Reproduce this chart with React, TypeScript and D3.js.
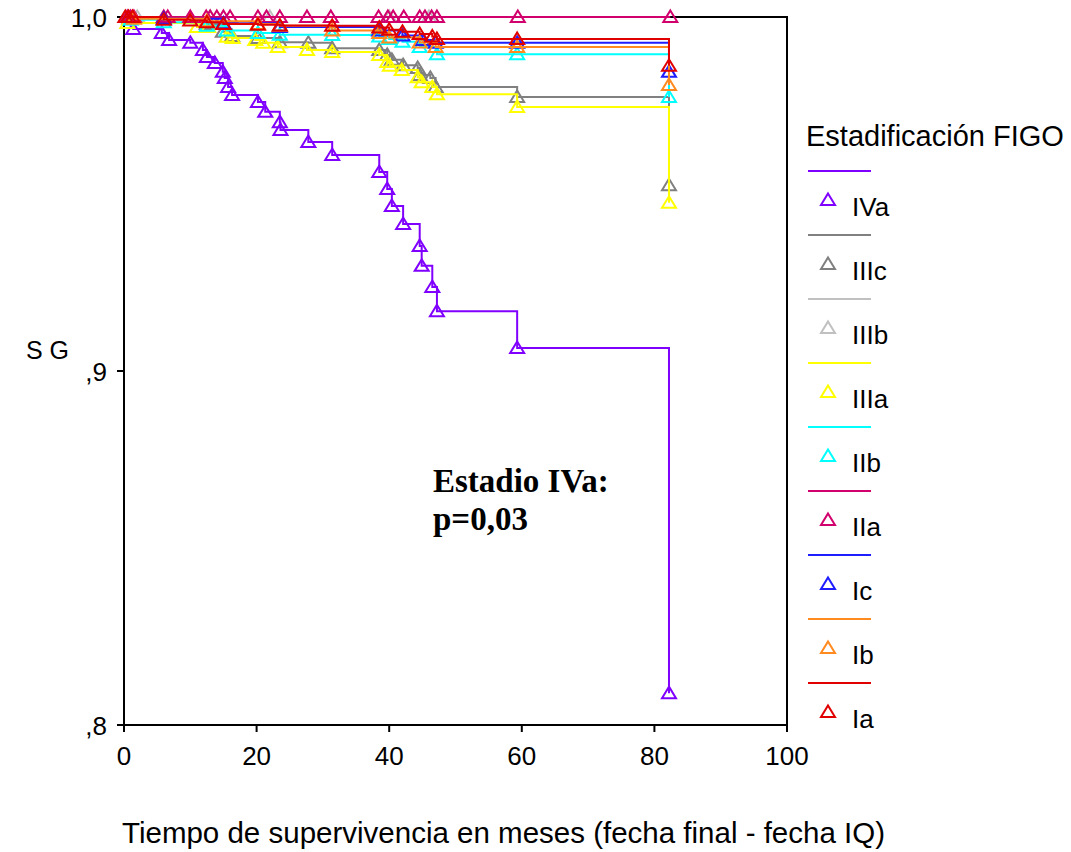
import React from 'react';
import * as d3 from 'd3';

// Kaplan-Meier curves, one per FIGO stage: [meses, supervivencia] at each step
const stages = ['IVa', 'IIIc', 'IIIb', 'IIIa', 'IIb', 'IIa', 'Ic', 'Ib', 'Ia'];
const stageColors = ['#8000ff', '#808080', '#c0c0c0', '#ffff00', '#00ffff', '#d1006c', '#1e1eff', '#ff8a1f', '#e00000'];

const stepsIVa: [number, number][] = [
  [1.4, 0.9966], [5.7, 0.9955], [6.8, 0.9935], [10.0, 0.9927], [11.9, 0.9907], [12.5, 0.9887],
  [13.7, 0.987], [14.9, 0.9845], [15.2, 0.9828], [15.7, 0.9802], [16.3, 0.978], [20.2, 0.976],
  [21.3, 0.9732], [23.5, 0.9703], [23.6, 0.9681], [27.8, 0.9647], [31.4, 0.961], [38.5, 0.9562],
  [39.7, 0.9514], [40.4, 0.9466], [42.1, 0.9415], [44.6, 0.9353], [44.9, 0.9297], [46.5, 0.9237],
  [47.2, 0.9169], [59.3, 0.9065], [82.2, 0.809],
];
const stepsIIIc: [number, number][] = [
  [0.8, 0.9995], [12.5, 0.998], [14.9, 0.9958], [16.3, 0.9946], [20.2, 0.9941], [23.5, 0.9929],
  [27.8, 0.9927], [31.4, 0.9912], [38.5, 0.9907], [39.7, 0.9893], [40.4, 0.9879], [42.1, 0.9864],
  [44.3, 0.9856], [44.6, 0.9836], [46.2, 0.9828], [47.0, 0.9802], [59.3, 0.9774], [82.2, 0.9525],
];
const stepsIIIb: [number, number][] = [
  [2.0, 1], [13.0, 1], [22.0, 1], [40.0, 1], [46.0, 1],
];
const stepsIIIa: [number, number][] = [
  [0.5, 0.9983], [11.0, 0.9972], [12.7, 0.9972], [15.5, 0.9944], [16.4, 0.9941], [19.8, 0.9935],
  [21.0, 0.9927], [23.2, 0.9915], [27.6, 0.9907], [31.4, 0.9901], [38.5, 0.9893], [39.7, 0.9873],
  [40.1, 0.9862], [41.9, 0.985], [44.3, 0.983], [44.9, 0.9816], [46.5, 0.9802], [47.2, 0.9782],
  [59.3, 0.9746], [82.2, 0.9475],
];
const stepsIIb: [number, number][] = [
  [1.0, 0.9992], [6.0, 0.9985], [12.5, 0.9975], [15.5, 0.9962], [20.2, 0.9955], [23.5, 0.995],
  [31.4, 0.9949], [38.5, 0.9945], [40.0, 0.9938], [42.0, 0.993], [44.6, 0.9915], [47.2, 0.9895],
  [59.3, 0.9895], [82.2, 0.9774],
];
const stepsIIa: [number, number][] = [
  [0.5, 1], [1.0, 1], [1.5, 1], [6.0, 1], [6.6, 1], [10.0, 1], [12.4, 1], [13.0, 1], [14.0, 1],
  [15.0, 1], [16.0, 1], [20.2, 1], [21.5, 1], [23.5, 1], [27.6, 1], [31.2, 1], [38.4, 1], [39.8, 1],
  [40.6, 1], [42.2, 1], [44.6, 1], [45.4, 1], [46.4, 1], [47.2, 1], [59.4, 1], [82.4, 1],
];
const stepsIc: [number, number][] = [
  [6.0, 0.9995], [15.0, 0.9982], [23.5, 0.9972], [38.5, 0.9962], [42.0, 0.9948], [45.0, 0.9935],
  [47.0, 0.9927], [59.3, 0.9927], [82.2, 0.9845],
];
const stepsIb: [number, number][] = [
  [1.5, 0.9995], [12.5, 0.9988], [20.2, 0.998], [23.5, 0.9975], [31.4, 0.9962], [38.5, 0.9955],
  [40.0, 0.9942], [44.6, 0.9928], [47.0, 0.9915], [59.3, 0.9915], [82.2, 0.9808],
];
const stepsIa: [number, number][] = [
  [0.2, 1], [0.7, 1], [1.3, 1], [6.0, 0.9992], [10.0, 0.999], [12.5, 0.9985], [15.0, 0.998],
  [20.2, 0.9978], [23.5, 0.9976], [31.4, 0.9975], [38.5, 0.997], [40.0, 0.9964], [42.0, 0.9958],
  [44.6, 0.9952], [46.5, 0.9945], [47.2, 0.9938], [59.3, 0.9938], [82.2, 0.9862],
];

const stageSteps = [stepsIVa, stepsIIIc, stepsIIIb, stepsIIIa, stepsIIb, stepsIIa, stepsIc, stepsIb, stepsIa];

const xTicks = [0, 20, 40, 60, 80, 100];
const yTicks = [0.8, 0.9, 1.0];
const yTickLabels = [',8', ',9', '1,0'];

const sans = '"Liberation Sans", Arial, sans-serif';
const serif = '"Liberation Serif", "Times New Roman", serif';

const tri = 'M0,-6.5L7,5L-7,5Z';

const App: React.FC = () => {
  const x = d3.scaleLinear().domain([0, 100]).range([124, 787]);
  const y = d3.scaleLinear().domain([0.8, 1]).range([725, 17]);

  const line = d3.line<[number, number]>()
    .x(d => x(d[0]))
    .y(d => y(d[1]))
    .curve(d3.curveStepAfter);

  return (
    <svg width={1071} height={852} style={{ position: 'absolute', left: 0, top: 0, background: '#fff' }}>
      {/* frame */}
      <rect x={x(0)} y={y(1)} width={x(100) - x(0)} height={y(0.8) - y(1)} fill="none" stroke="#000" strokeWidth={2} />

      {xTicks.map(t => (
        <g key={t}>
          <line x1={x(t)} x2={x(t)} y1={y(0.8)} y2={y(0.8) + 7} stroke="#000" strokeWidth={2} />
          <text x={x(t)} y={765} textAnchor="middle" fontFamily={sans} fontSize={26}>{t}</text>
        </g>
      ))}
      {yTicks.map((t, i) => (
        <g key={t}>
          <line x1={x(0) - 7} x2={x(0)} y1={y(t)} y2={y(t)} stroke="#000" strokeWidth={2} />
          <text x={107} y={y(t) + 10} textAnchor="end" fontFamily={sans} fontSize={26}>{yTickLabels[i]}</text>
        </g>
      ))}

      {stages.map((s, i) => {
        const pts = stageSteps[i];
        const path = line([[0, 1], ...pts]);
        return (
          <g key={s}>
            <path d={path || ''} fill="none" stroke={stageColors[i]} strokeWidth={2} />
            {pts.map((p, j) => (
              <path key={j} d={tri} transform={`translate(${x(p[0])},${y(p[1])})`}
                fill="none" stroke={stageColors[i]} strokeWidth={2} />
            ))}
          </g>
        );
      })}

      <text x={26} y={359} fontFamily={sans} fontSize={25}>S G</text>
      <text x={122} y={843} fontFamily={sans} fontSize={29.5}>Tiempo de supervivencia en meses (fecha final - fecha IQ)</text>

      <text x={433} y={492} fontFamily={serif} fontWeight="bold" fontSize={33}>Estadio IVa:</text>
      <text x={433} y={530} fontFamily={serif} fontWeight="bold" fontSize={33}>p=0,03</text>

      {/* legend */}
      <text x={806} y={146} fontFamily={sans} fontSize={29}>Estadificación FIGO</text>
      {stages.map((s, i) => {
        const ly = 171 + i * 64;
        return (
          <g key={s}>
            <line x1={808} x2={871} y1={ly} y2={ly} stroke={stageColors[i]} strokeWidth={2} />
            <path d={tri} transform={`translate(828,${ly + 29})`} fill="none" stroke={stageColors[i]} strokeWidth={2} />
            <text x={852} y={ly + 45} fontFamily={sans} fontSize={26}>{s}</text>
          </g>
        );
      })}
    </svg>
  );
};

export default App;
